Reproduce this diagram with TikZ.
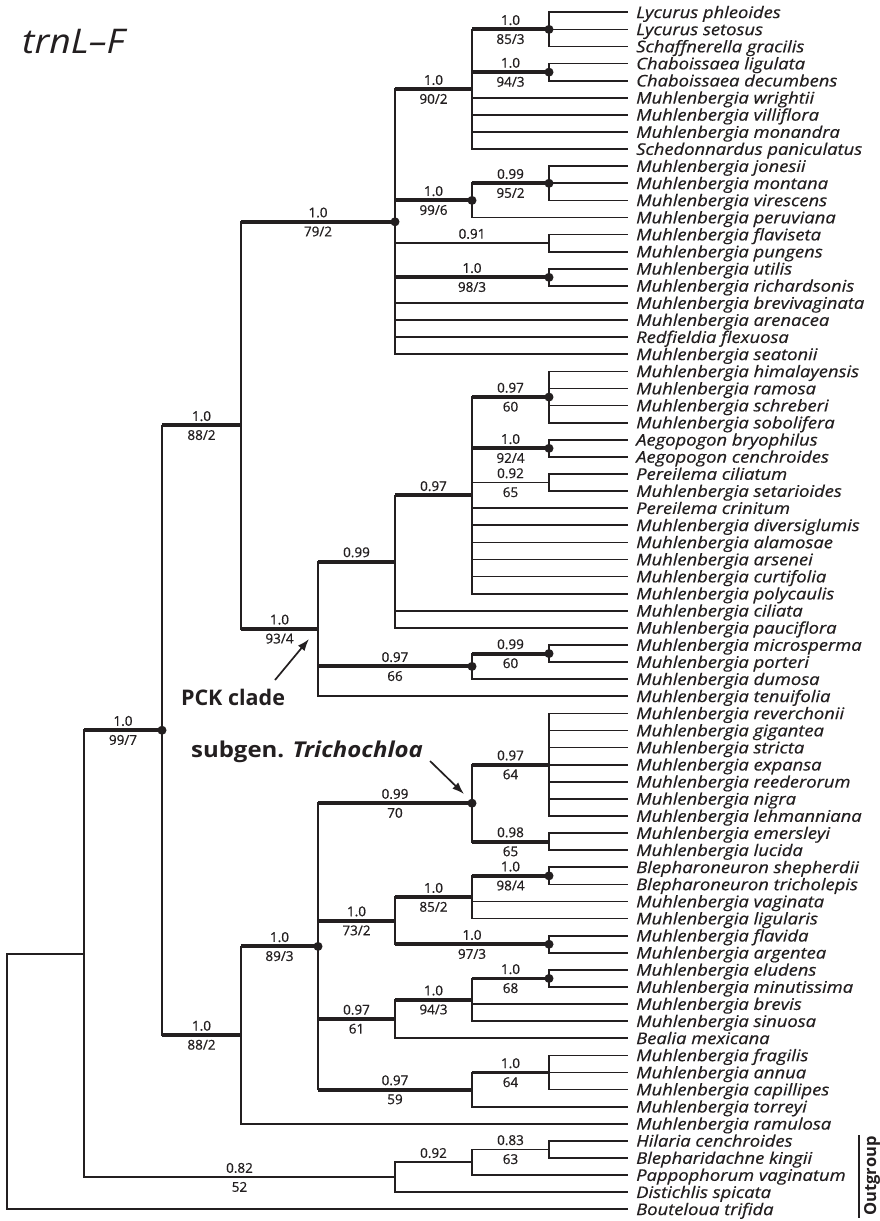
\documentclass[tikz,border=0pt]{standalone}
\usepackage{fontspec}
\setmainfont{Open Sans}
\newfontfamily\leaffont[FakeStretch=1.15,FakeBold=0.5]{Open Sans}
\newfontfamily\numfont[FakeBold=0.7]{Open Sans}
\newfontfamily\widefont[FakeStretch=1.1]{Open Sans}
\usetikzlibrary{arrows.meta}
\definecolor{ink}{RGB}{35,31,32}
\newcommand\tbr[5]{\draw[thn] (#2) |- (#3); \draw[#1] (#2 |- #3) -- node[pa]{#4} node[pb]{#5} (#3);}
\begin{document}
\begin{tikzpicture}[x=1pt,y=-1pt,
  thn/.style={line width=1.7pt,draw=ink},
  thk/.style={line width=3.9pt,draw=ink},
  leaf/.style={anchor=west,inner xsep=8pt,inner ysep=0pt,text height=11.5pt,text depth=0pt,font=\leaffont\fontsize{16}{16}\selectfont\itshape,text=ink},
  pa/.style={anchor=base,inner sep=0pt,yshift=4.5pt,font=\numfont\fontsize{13.5}{13.5}\selectfont,text=ink},
  pb/.style={anchor=base,inner sep=0pt,yshift=-14.5pt,font=\numfont\fontsize{13.5}{13.5}\selectfont,text=ink},
  callout/.style={inner sep=0pt,font=\fontsize{21.5}{21.5}\selectfont\bfseries,text=ink},
  arr/.style={line width=1.7pt,draw=ink,-{Latex[length=12pt,width=8.5pt]}}]
\useasboundingbox (0,0) rectangle (880,1221);
\fill[white] (0,0) rectangle (880,1221);

\node[anchor=base west,inner sep=0pt,font=\widefont\fontsize{34}{34}\selectfont\itshape,text=ink] (title) at (22,53) {trnL–F};

% leaves
\foreach \i/\t in {1/Lycurus phleoides,2/Lycurus setosus,3/Schaffnerella gracilis,4/Chaboissaea ligulata,5/Chaboissaea decumbens,6/Muhlenbergia wrightii,7/Muhlenbergia villiflora,8/Muhlenbergia monandra,9/Schedonnardus paniculatus,10/Muhlenbergia jonesii,11/Muhlenbergia montana,12/Muhlenbergia virescens,13/Muhlenbergia peruviana,14/Muhlenbergia flaviseta,15/Muhlenbergia pungens,16/Muhlenbergia utilis,17/Muhlenbergia richardsonis,18/Muhlenbergia brevivaginata,19/Muhlenbergia arenacea,20/Redfieldia flexuosa,21/Muhlenbergia seatonii,22/Muhlenbergia himalayensis,23/Muhlenbergia ramosa,24/Muhlenbergia schreberi,25/Muhlenbergia sobolifera,26/Aegopogon bryophilus,27/Aegopogon cenchroides,28/Pereilema ciliatum,29/Muhlenbergia setarioides,30/Pereilema crinitum,31/Muhlenbergia diversiglumis,32/Muhlenbergia alamosae,33/Muhlenbergia arsenei,34/Muhlenbergia curtifolia,35/Muhlenbergia polycaulis,36/Muhlenbergia ciliata,37/Muhlenbergia pauciflora,38/Muhlenbergia microsperma,39/Muhlenbergia porteri,40/Muhlenbergia dumosa,41/Muhlenbergia tenuifolia,42/Muhlenbergia reverchonii,43/Muhlenbergia gigantea,44/Muhlenbergia stricta,45/Muhlenbergia expansa,46/Muhlenbergia reederorum,47/Muhlenbergia nigra,48/Muhlenbergia lehmanniana,49/Muhlenbergia emersleyi,50/Muhlenbergia lucida,51/Blepharoneuron shepherdii,52/Blepharoneuron tricholepis,53/Muhlenbergia vaginata,54/Muhlenbergia ligularis,55/Muhlenbergia flavida,56/Muhlenbergia argentea,57/Muhlenbergia eludens,58/Muhlenbergia minutissima,59/Muhlenbergia brevis,60/Muhlenbergia sinuosa,61/Bealia mexicana,62/Muhlenbergia fragilis,63/Muhlenbergia annua,64/Muhlenbergia capillipes,65/Muhlenbergia torreyi,66/Muhlenbergia ramulosa,67/Hilaria cenchroides,68/Blepharidachne kingii,69/Pappophorum vaginatum,70/Distichlis spicata,71/Bouteloua trifida}
  \node[leaf] (L\i) at (628,{12.3+(\i-1)*17.1}) {\t};

% internal nodes
\coordinate (A1) at (549,29.4);
\coordinate (A3) at (549,72.15);
\coordinate (A2) at (472,89.25);
\coordinate (A4) at (549,183.3);
\coordinate (A5) at (472,200.4);
\coordinate (A6) at (549,243.15);
\coordinate (A7) at (549,277.35);
\coordinate (T) at (395,221.8);
\coordinate (B1) at (549,397.05);
\coordinate (B2) at (549,448.35);
\coordinate (B3) at (549,482.55);
\coordinate (B4) at (472,495.4);
\coordinate (B5) at (395,561.6);
\coordinate (B6) at (549,653.55);
\coordinate (B7) at (472,666.4);
\coordinate (P) at (318,628.9);
\coordinate (U) at (241,425.4);
\coordinate (C1) at (549,764.7);
\coordinate (C2) at (549,841.65);
\coordinate (C3) at (472,803.2);
\coordinate (C4) at (549,875.85);
\coordinate (C5) at (472,897.2);
\coordinate (C6) at (549,944.25);
\coordinate (C7) at (395,920.7);
\coordinate (C8) at (549,978.45);
\coordinate (C9) at (472,999.8);
\coordinate (C10) at (395,1019.05);
\coordinate (C11) at (549,1072.5);
\coordinate (C12) at (472,1089.6);
\coordinate (C13) at (318,946.4);
\coordinate (D) at (241,1035.1);
\coordinate (I) at (162,730.25);
\coordinate (O1) at (549,1149.45);
\coordinate (O2) at (472,1162.3);
\coordinate (O3) at (395,1177.25);
\coordinate (R1) at (84,953.75);
\coordinate (R) at (7,1081.5);

% leaf edges
\foreach \p/\k in {A1/1,A1/2,A1/3,A3/4,A3/5,A2/6,A2/7,A2/8,A2/9,A4/10,A4/11,A4/12,A5/13,A6/14,A6/15,A7/16,A7/17,T/18,T/19,T/20,T/21,B1/22,B1/23,B1/24,B1/25,B2/26,B2/27,B3/28,B3/29,B4/30,B4/31,B4/32,B4/33,B4/34,B4/35,B5/36,B5/37,B6/38,B6/39,B7/40,P/41,C1/42,C1/43,C1/44,C1/45,C1/46,C1/47,C1/48,C2/49,C2/50,C4/51,C4/52,C5/53,C5/54,C6/55,C6/56,C8/57,C8/58,C9/59,C9/60,C10/61,C11/62,C11/63,C11/64,C12/65,D/66,O1/67,O1/68,O2/69,O3/70,R/71}
  \draw[thn] (\p) |- (L\k.west);

% internal edges
\tbr{thk}{A2}{A1}{1.0}{85/3}
\tbr{thk}{A2}{A3}{1.0}{94/3}
\tbr{thk}{T}{A2}{1.0}{90/2}
\tbr{thk}{A5}{A4}{0.99}{95/2}
\tbr{thk}{T}{A5}{1.0}{99/6}
\tbr{thn}{T}{A6}{0.91}{}
\tbr{thk}{T}{A7}{1.0}{98/3}
\tbr{thk}{U}{T}{1.0}{79/2}
\tbr{thk}{B4}{B1}{0.97}{60}
\tbr{thk}{B4}{B2}{1.0}{92/4}
\tbr{thn}{B4}{B3}{0.92}{65}
\tbr{thk}{B5}{B4}{0.97}{}
\tbr{thk}{P}{B5}{0.99}{}
\tbr{thk}{B7}{B6}{0.99}{60}
\tbr{thk}{P}{B7}{0.97}{66}
\tbr{thk}{U}{P}{1.0}{93/4}
\tbr{thk}{I}{U}{1.0}{88/2}
\tbr{thk}{C3}{C1}{0.97}{64}
\tbr{thk}{C3}{C2}{0.98}{65}
\tbr{thk}{C13}{C3}{0.99}{70}
\tbr{thk}{C5}{C4}{1.0}{98/4}
\tbr{thk}{C7}{C5}{1.0}{85/2}
\tbr{thk}{C7}{C6}{1.0}{97/3}
\tbr{thk}{C13}{C7}{1.0}{73/2}
\tbr{thk}{C9}{C8}{1.0}{68}
\tbr{thk}{C10}{C9}{1.0}{94/3}
\tbr{thk}{C13}{C10}{0.97}{61}
\tbr{thk}{C12}{C11}{1.0}{64}
\tbr{thk}{C13}{C12}{0.97}{59}
\tbr{thk}{D}{C13}{1.0}{89/3}
\tbr{thk}{I}{D}{1.0}{88/2}
\tbr{thk}{R1}{I}{1.0}{99/7}
\tbr{thn}{O2}{O1}{0.83}{63}
\tbr{thn}{O3}{O2}{0.92}{}
\tbr{thn}{R1}{O3}{0.82}{52}
\tbr{thn}{R}{R1}{}{}

% dots
\foreach \n in {A1,A3,A4,A5,A7,T,B1,B2,B6,B7,C3,C4,C6,C8,C13,I}
  \fill[ink] (\n) circle (4.5pt);

% callouts
\node[callout] (pck) at (233,697) {PCK clade};
\coordinate (pckS) at (275,680);
\coordinate (pckE) at (309,639);
\draw[arr] (pckS) -- (pckE);
\node[callout,font=\widefont\fontsize{21.8}{21.8}\selectfont\bfseries] (tri) at (307,752) {subgen. \textit{Trichochloa}};
\coordinate (triS) at (430,761);
\coordinate (triE) at (464,794);
\draw[arr] (triS) -- (triE);

% outgroup bracket
\coordinate (ogT) at (859,1135);
\coordinate (ogB) at (859,1218);
\draw[thn] (ogT) -- (ogB);
\node[rotate=90,inner sep=0pt,font=\fontsize{16.5}{16.5}\selectfont\bfseries,text=ink] (og) at (872,1176) {Outgroup};
\end{tikzpicture}
\end{document}
